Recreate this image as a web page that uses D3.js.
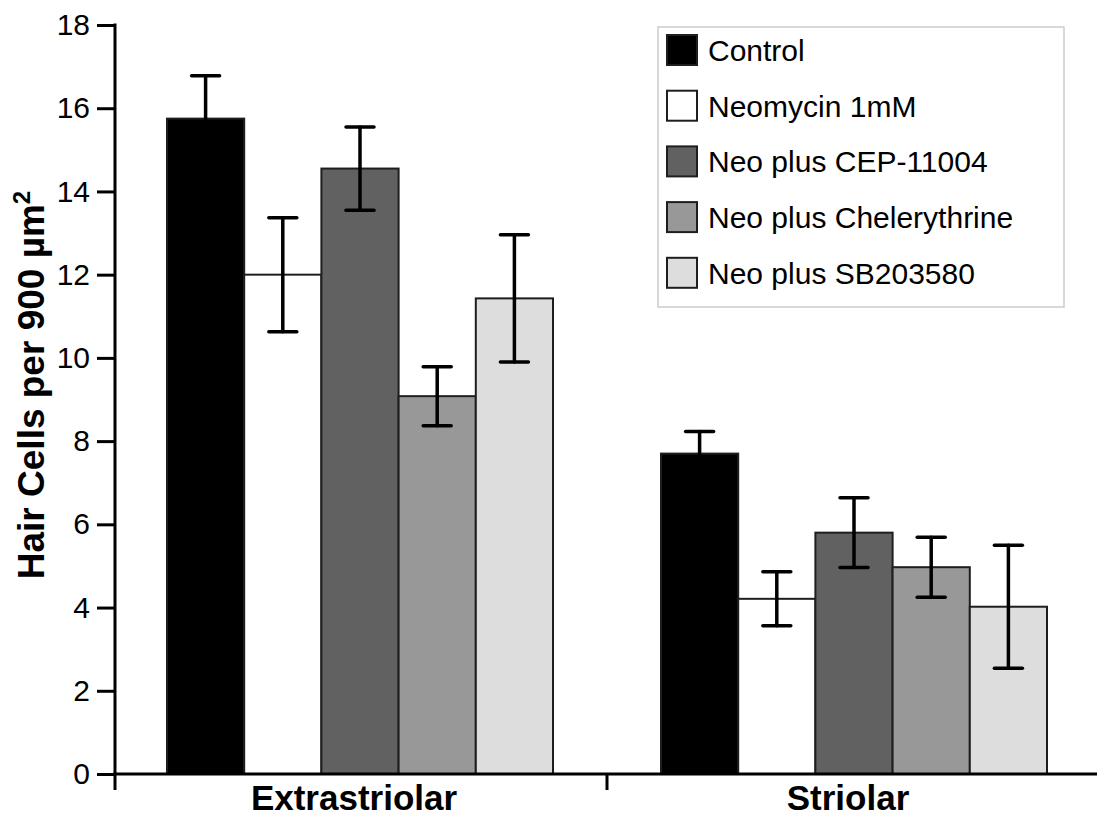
<!DOCTYPE html>
<html>
<head>
  <script src="https://d3js.org/d3.v7.min.js"></script>
  <style>
    body { margin: 0; background: #fff; }
    text { font-family: Arial, "Liberation Sans", sans-serif; }
  </style>
</head>
<body>
  <script>
    // Data
    const groups = ["Extrastriolar", "Striolar"];
    const series = ["Control", "Neomycin 1mM", "Neo plus CEP-11004", "Neo plus Chelerythrine", "Neo plus SB203580"];
    const extraMeans = [15.75, 12.0, 14.55, 9.08, 11.43];
    const extraErrors = [1.03, 1.37, 1.0, 0.71, 1.53];
    const striolarMeans = [7.7, 4.21, 5.8, 4.97, 4.02];
    const striolarErrors = [0.53, 0.65, 0.84, 0.72, 1.48];
    const yTicks = [0, 2, 4, 6, 8, 10, 12, 14, 16, 18];
    const fills = ["#000000", "#ffffff", "#616161", "#989898", "#dddddd"];

    const W = 1097, H = 819;

    const svg = d3.select("body")
      .append("svg")
        .attr("width", W)
        .attr("height", H);

    // Scales
    const x0 = d3.scaleBand()
      .domain(groups)
      .range([113, 1101]);

    const x1 = d3.scaleBand()
      .domain(series)
      .range([54, 440]);

    const y = d3.scaleLinear()
      .domain([0, 18])
      .range([774, 25]);

    const color = d3.scaleOrdinal()
      .domain(series)
      .range(fills);

    const table = [];
    groups.forEach((g, gi) => {
      const means = gi === 0 ? extraMeans : striolarMeans;
      const errs = gi === 0 ? extraErrors : striolarErrors;
      series.forEach((s, i) => {
        table.push({group: g, series: s, value: means[i], err: errs[i]});
      });
    });

    // Bars
    svg.append("g")
      .selectAll("rect")
      .data(table)
      .join("rect")
        .attr("x", d => x0(d.group) + x1(d.series))
        .attr("y", d => y(d.value))
        .attr("width", x1.bandwidth())
        .attr("height", d => y(0) - y(d.value))
        .attr("fill", d => color(d.series))
        .attr("stroke", "#1e1e1e")
        .attr("stroke-width", 2);

    // Error bars
    const eb = svg.append("g")
      .attr("stroke", "#000")
      .attr("stroke-width", 3.5)
      .attr("stroke-linecap", "round");
    const cap = 14;
    table.forEach(d => {
      const cx = x0(d.group) + x1(d.series) + x1.bandwidth() / 2;
      eb.append("line")
        .attr("x1", cx).attr("x2", cx)
        .attr("y1", y(d.value - d.err)).attr("y2", y(d.value + d.err));
      [d.value - d.err, d.value + d.err].forEach(v => {
        eb.append("line")
          .attr("x1", cx - cap).attr("x2", cx + cap)
          .attr("y1", y(v)).attr("y2", y(v));
      });
    });

    // Y axis
    const yAxis = svg.append("g")
      .attr("transform", "translate(115,0)")
      .call(d3.axisLeft(y).tickValues(yTicks).tickSize(18).tickPadding(7).tickSizeOuter(0));
    yAxis.select(".domain").remove();
    yAxis.selectAll(".tick line").attr("stroke", "#000").attr("stroke-width", 3);
    yAxis.selectAll(".tick text")
      .attr("font-size", 30)
      .attr("fill", "#000")
      .attr("font-family", "Arial, 'Liberation Sans', sans-serif");
    svg.append("line")
      .attr("x1", 115).attr("x2", 115)
      .attr("y1", y(18) - 1.5).attr("y2", 790)
      .attr("stroke", "#000").attr("stroke-width", 3);

    // X axis
    svg.append("line")
      .attr("x1", 113).attr("x2", W)
      .attr("y1", y(0)).attr("y2", y(0))
      .attr("stroke", "#000").attr("stroke-width", 3);
    svg.append("g")
      .selectAll("line")
      .data(groups.slice(1))
      .join("line")
        .attr("x1", d => x0(d)).attr("x2", d => x0(d))
        .attr("y1", y(0)).attr("y2", 790)
        .attr("stroke", "#000").attr("stroke-width", 3);
    svg.append("g")
      .selectAll("text")
      .data(groups)
      .join("text")
        .attr("x", d => x0(d) + x0.bandwidth() / 2 - 6)
        .attr("y", 810)
        .attr("text-anchor", "middle")
        .attr("font-size", 35)
        .attr("font-weight", "bold")
        .text(d => d);

    // Y axis label
    const yl = svg.append("text")
      .attr("transform", "translate(44,385) rotate(-90)")
      .attr("text-anchor", "middle")
      .attr("font-size", 37)
      .attr("font-weight", "bold");
    yl.append("tspan").text("Hair Cells per 900 µm");
    yl.append("tspan").attr("dy", -14).attr("font-size", 24).text("2");

    // Legend
    const legend = svg.append("g");
    legend.append("rect")
      .attr("x", 658).attr("y", 27)
      .attr("width", 406).attr("height", 280)
      .attr("fill", "#fff")
      .attr("stroke", "#cccccc")
      .attr("stroke-width", 1.5);
    series.forEach((s, i) => {
      const row = legend.append("g")
        .attr("transform", `translate(667, ${35 + i * 55.7})`);
      row.append("rect")
        .attr("width", 30).attr("height", 30)
        .attr("fill", color(s))
        .attr("stroke", "#1e1e1e")
        .attr("stroke-width", 2);
      row.append("text")
        .attr("x", 41)
        .attr("y", 26)
        .attr("font-size", 30)
        .text(s);
    });
  </script>
</body>
</html>
